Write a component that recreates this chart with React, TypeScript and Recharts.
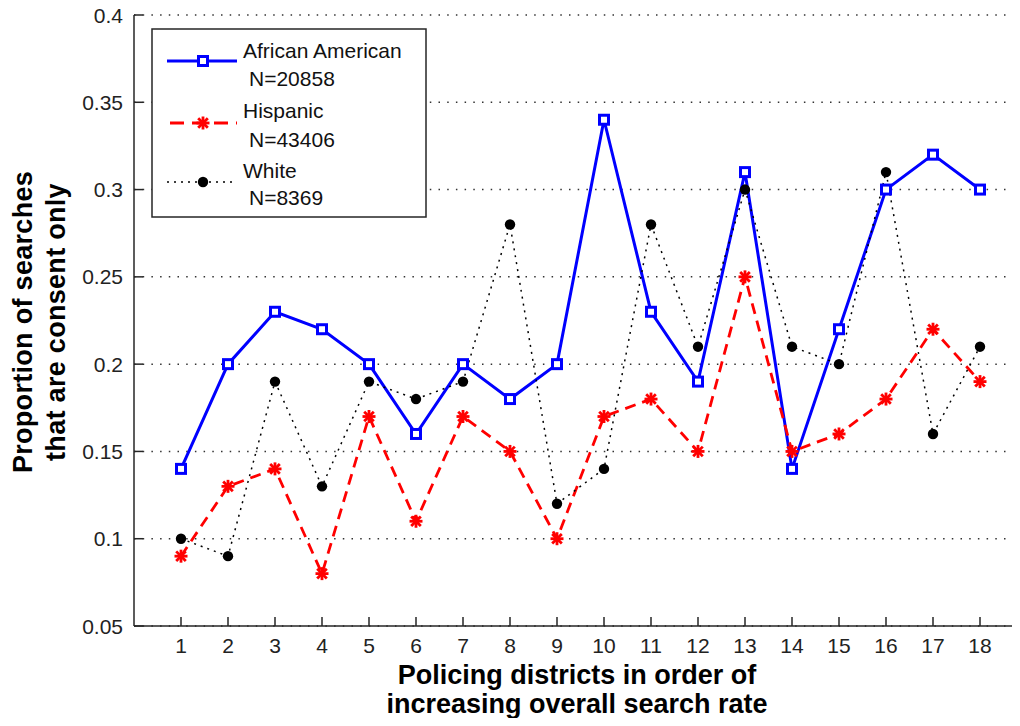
import React from 'react'
import { LineChart, Line, XAxis, YAxis, CartesianGrid, Customized } from 'recharts'

const districts = [1, 2, 3, 4, 5, 6, 7, 8, 9, 10, 11, 12, 13, 14, 15, 16, 17, 18]
const africanAmerican = [0.14, 0.2, 0.23, 0.22, 0.2, 0.16, 0.2, 0.18, 0.2, 0.34, 0.23, 0.19, 0.31, 0.14, 0.22, 0.3, 0.32, 0.3]
const hispanic = [0.09, 0.13, 0.14, 0.08, 0.17, 0.11, 0.17, 0.15, 0.1, 0.17, 0.18, 0.15, 0.25, 0.15, 0.16, 0.18, 0.22, 0.19]
const white = [0.1, 0.09, 0.19, 0.13, 0.19, 0.18, 0.19, 0.28, 0.12, 0.14, 0.28, 0.21, 0.3, 0.21, 0.2, 0.31, 0.16, 0.21]
const yTicks = [0.05, 0.1, 0.15, 0.2, 0.25, 0.3, 0.35, 0.4]
const legendItems = [
  { name: 'African American', n: 'N=20858' },
  { name: 'Hispanic', n: 'N=43406' },
  { name: 'White', n: 'N=8369' },
]

const data = districts.map((d, i) => ({
  district: d,
  aa: africanAmerican[i],
  hisp: hispanic[i],
  white: white[i],
}))

const AXIS = '#262626'
const FONT = '"Liberation Sans", Arial, Helvetica, sans-serif'
const TICK_LEN = 9
const TICK_FONT = 21

function SquareDot({ cx, cy, index }: any) {
  return <rect key={`s${index}`} x={cx - 4.5} y={cy - 4.5} width={9} height={9} fill="#fff" stroke="#0000ff" strokeWidth={3} />
}

function StarDot({ cx, cy, index }: any) {
  const r = 6.5
  const d = 4.8
  return (
    <g key={`st${index}`} stroke="#ff0000" strokeWidth={2.8}>
      <line x1={cx - r} y1={cy} x2={cx + r} y2={cy} />
      <line x1={cx} y1={cy - r} x2={cx} y2={cy + r} />
      <line x1={cx - d} y1={cy - d} x2={cx + d} y2={cy + d} />
      <line x1={cx - d} y1={cy + d} x2={cx + d} y2={cy - d} />
    </g>
  )
}

function BlackDot({ cx, cy, index }: any) {
  return <circle key={`b${index}`} cx={cx} cy={cy} r={5.2} fill="#000" />
}

// ticks point inward like matlab; labels drawn here too
function YTick({ x, y, payload }: any) {
  const axisX = x + 11
  return (
    <g>
      <line x1={axisX} y1={y} x2={axisX + TICK_LEN} y2={y} stroke={AXIS} strokeWidth={1.5} />
      <text x={x} y={y + 7.5} textAnchor="end" fontSize={TICK_FONT} fill="#222" fontFamily={FONT}>
        {String(payload.value)}
      </text>
    </g>
  )
}

function XTick({ x, y, payload }: any) {
  const axisY = y - 10
  return (
    <g>
      <line x1={x} y1={axisY} x2={x} y2={axisY - TICK_LEN} stroke={AXIS} strokeWidth={1.5} />
      <text x={x} y={axisY + 27} textAnchor="middle" fontSize={TICK_FONT} fill="#222" fontFamily={FONT}>
        {payload.value}
      </text>
    </g>
  )
}

function TopTick({ x, y }: any) {
  return <line x1={x} y1={y} x2={x} y2={y + TICK_LEN} stroke={AXIS} strokeWidth={1.5} />
}

function Decorations() {
  const sampleY = [61, 123, 182]
  const nameY = [58, 118, 178]
  const nY = [86, 147, 205]
  return (
    <g fontFamily={FONT}>
      {/* axis titles */}
      <g fontSize={27} fontWeight="bold" fill="#000">
        <text transform="translate(32,322) rotate(-90)" textAnchor="middle" letterSpacing={0.3}>Proportion of searches</text>
        <text transform="translate(65,322) rotate(-90)" textAnchor="middle" letterSpacing={0.3}>that are consent only</text>
        <text x={577} y={684} textAnchor="middle">Policing districts in order of</text>
        <text x={577} y={713} textAnchor="middle">increasing overall search rate</text>
      </g>
      {/* legend */}
      <rect x={152} y={29} width={274} height={188} fill="#fff" stroke={AXIS} strokeWidth={1.5} />
      <line x1={167} y1={sampleY[0]} x2={237} y2={sampleY[0]} stroke="#0000ff" strokeWidth={3} />
      <SquareDot cx={203} cy={sampleY[0]} index="l0" />
      <line x1={167} y1={sampleY[1]} x2={237} y2={sampleY[1]} stroke="#ff0000" strokeWidth={2.8} strokeDasharray="14 8" strokeDashoffset={-3} />
      <StarDot cx={203} cy={sampleY[1]} index="l1" />
      <line x1={167} y1={sampleY[2]} x2={237} y2={sampleY[2]} stroke="#000" strokeWidth={1.5} strokeDasharray="2 5" />
      <BlackDot cx={203} cy={sampleY[2]} index="l2" />
      {legendItems.map((item, i) => (
        <g key={item.name} fontSize={21} fill="#111">
          <text x={243} y={nameY[i]}>{item.name}</text>
          <text x={249} y={nY[i]}>{item.n}</text>
        </g>
      ))}
    </g>
  )
}

export default function App() {
  return (
    <div style={{ width: 1020, height: 726, margin: -8, overflow: 'hidden', background: '#fff' }}>
      <LineChart
        width={1040}
        height={726}
        data={data}
        margin={{ top: 15, right: 13, left: 74, bottom: 70 }}
      >
        <CartesianGrid vertical={false} stroke="#333" strokeWidth={1.5} strokeDasharray="1.5 7.2" />
        <XAxis
          xAxisId="top"
          orientation="top"
          dataKey="district"
          type="number"
          domain={[0, 19]}
          ticks={districts}
          height={0}
          tickSize={0}
          tickMargin={0}
          stroke={AXIS}
          strokeWidth={1.5}
          tick={<TopTick />}
          tickLine={false}
        />
        <XAxis
          dataKey="district"
          type="number"
          domain={[0, 19]}
          ticks={districts}
          height={30}
          tickSize={0}
          tickMargin={10}
          stroke={AXIS}
          strokeWidth={1.5}
          tick={<XTick />}
          tickLine={false}
          interval={0}
        />
        <YAxis
          type="number"
          domain={[0.05, 0.4]}
          ticks={yTicks}
          width={60}
          tickSize={0}
          tickMargin={11}
          stroke={AXIS}
          strokeWidth={1.5}
          tick={<YTick />}
          tickLine={false}
          interval={0}
        />
        <Line
          dataKey="aa"
          stroke="#0000ff"
          strokeWidth={3}
          dot={(p: any) => <SquareDot {...p} key={`aa${p.index}`} />}
          activeDot={false}
          isAnimationActive={false}
        />
        <Line
          dataKey="hisp"
          stroke="#ff0000"
          strokeWidth={2.8}
          strokeDasharray="11 7"
          dot={(p: any) => <StarDot {...p} key={`h${p.index}`} />}
          activeDot={false}
          isAnimationActive={false}
        />
        <Line
          dataKey="white"
          stroke="#000"
          strokeWidth={1.5}
          strokeDasharray="2 5"
          dot={(p: any) => <BlackDot {...p} key={`w${p.index}`} />}
          activeDot={false}
          isAnimationActive={false}
        />
        <Customized component={Decorations} />
      </LineChart>
    </div>
  )
}
